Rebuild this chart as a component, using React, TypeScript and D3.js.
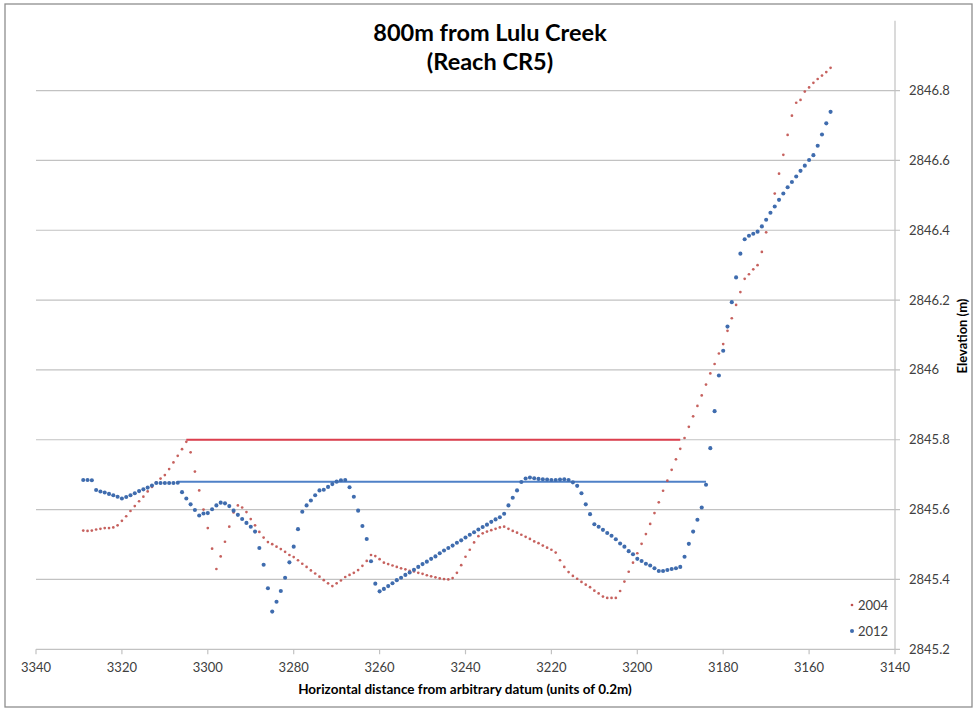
import React from "react";
import * as d3 from "d3";

// Survey stations along the cross-section (units of 0.2 m from datum)
const STATIONS = [
  3329, 3328, 3327, 3326, 3325, 3324, 3323, 3322, 3321, 3320,
  3319, 3318, 3317, 3316, 3315, 3314, 3313, 3312, 3311, 3310,
  3309, 3308, 3307, 3306, 3305, 3304, 3303, 3302, 3301, 3300,
  3299, 3298, 3297, 3296, 3295, 3294, 3293, 3292, 3291, 3290,
  3289, 3288, 3287, 3286, 3285, 3284, 3283, 3282, 3281, 3280,
  3279, 3278, 3277, 3276, 3275, 3274, 3273, 3272, 3271, 3270,
  3269, 3268, 3267, 3266, 3265, 3264, 3263, 3262, 3261, 3260,
  3259, 3258, 3257, 3256, 3255, 3254, 3253, 3252, 3251, 3250,
  3249, 3248, 3247, 3246, 3245, 3244, 3243, 3242, 3241, 3240,
  3239, 3238, 3237, 3236, 3235, 3234, 3233, 3232, 3231, 3230,
  3229, 3228, 3227, 3226, 3225, 3224, 3223, 3222, 3221, 3220,
  3219, 3218, 3217, 3216, 3215, 3214, 3213, 3212, 3211, 3210,
  3209, 3208, 3207, 3206, 3205, 3204, 3203, 3202, 3201, 3200,
  3199, 3198, 3197, 3196, 3195, 3194, 3193, 3192, 3191, 3190,
  3189, 3188, 3187, 3186, 3185, 3184, 3183, 3182, 3181, 3180,
  3179, 3178, 3177, 3176, 3175, 3174, 3173, 3172, 3171, 3170,
  3169, 3168, 3167, 3166, 3165, 3164, 3163, 3162, 3161, 3160,
  3159, 3158, 3157, 3156, 3155,
];

// 2004 survey elevations (m)
const ELEV_2004 = [
  2845.540, 2845.539, 2845.540, 2845.543, 2845.545, 2845.547, 2845.547, 2845.549, 2845.555, 2845.568,
  2845.581, 2845.596, 2845.610, 2845.624, 2845.637, 2845.652, 2845.665, 2845.678, 2845.689, 2845.699,
  2845.716, 2845.735, 2845.754, 2845.773, 2845.794, 2845.764, 2845.709, 2845.655, 2845.600, 2845.547,
  2845.488, 2845.430, 2845.466, 2845.508, 2845.551, 2845.592, 2845.612, 2845.606, 2845.593, 2845.573,
  2845.555, 2845.536, 2845.520, 2845.507, 2845.501, 2845.494, 2845.487, 2845.479, 2845.470, 2845.464,
  2845.455, 2845.445, 2845.436, 2845.426, 2845.417, 2845.408, 2845.398, 2845.389, 2845.381, 2845.389,
  2845.397, 2845.407, 2845.413, 2845.419, 2845.427, 2845.439, 2845.453, 2845.470, 2845.467, 2845.458,
  2845.448, 2845.444, 2845.440, 2845.436, 2845.432, 2845.429, 2845.425, 2845.423, 2845.419, 2845.416,
  2845.412, 2845.409, 2845.406, 2845.403, 2845.401, 2845.400, 2845.404, 2845.419, 2845.441, 2845.465,
  2845.485, 2845.506, 2845.524, 2845.532, 2845.537, 2845.541, 2845.545, 2845.549, 2845.551, 2845.545,
  2845.539, 2845.534, 2845.528, 2845.522, 2845.516, 2845.509, 2845.504, 2845.497, 2845.491, 2845.485,
  2845.477, 2845.455, 2845.436, 2845.421, 2845.410, 2845.402, 2845.393, 2845.385, 2845.378, 2845.368,
  2845.360, 2845.351, 2845.347, 2845.347, 2845.347, 2845.367, 2845.394, 2845.422, 2845.448, 2845.475,
  2845.502, 2845.530, 2845.559, 2845.590, 2845.621, 2845.654, 2845.683, 2845.714, 2845.744, 2845.774,
  2845.805, 2845.837, 2845.867, 2845.897, 2845.927, 2845.958, 2845.990, 2846.017, 2846.047, 2846.074,
  2846.112, 2846.148, 2846.186, 2846.223, 2846.261, 2846.274, 2846.288, 2846.300, 2846.338, 2846.394,
  2846.450, 2846.505, 2846.562, 2846.616, 2846.673, 2846.728, 2846.765, 2846.773, 2846.797, 2846.809,
  2846.822, 2846.833, 2846.843, 2846.853, 2846.865,
];

// 2012 survey elevations (m)
const ELEV_2012 = [
  2845.685, 2845.685, 2845.684, 2845.656, 2845.652, 2845.649, 2845.645, 2845.641, 2845.637, 2845.632,
  2845.636, 2845.641, 2845.647, 2845.653, 2845.658, 2845.663, 2845.669, 2845.676, 2845.676, 2845.676,
  2845.676, 2845.676, 2845.677, 2845.650, 2845.632, 2845.615, 2845.599, 2845.583, 2845.589, 2845.590,
  2845.601, 2845.612, 2845.620, 2845.618, 2845.610, 2845.597, 2845.585, 2845.573, 2845.562, 2845.551,
  2845.537, 2845.490, 2845.442, 2845.375, 2845.308, 2845.336, 2845.367, 2845.405, 2845.449, 2845.494,
  2845.544, 2845.594, 2845.612, 2845.626, 2845.641, 2845.655, 2845.657, 2845.665, 2845.673, 2845.680,
  2845.684, 2845.685, 2845.664, 2845.637, 2845.597, 2845.553, 2845.516, 2845.452, 2845.388, 2845.366,
  2845.373, 2845.381, 2845.389, 2845.398, 2845.405, 2845.413, 2845.420, 2845.428, 2845.436, 2845.444,
  2845.451, 2845.459, 2845.466, 2845.475, 2845.483, 2845.490, 2845.497, 2845.505, 2845.512, 2845.520,
  2845.528, 2845.535, 2845.543, 2845.550, 2845.557, 2845.565, 2845.572, 2845.578, 2845.588, 2845.612,
  2845.634, 2845.655, 2845.679, 2845.689, 2845.692, 2845.690, 2845.688, 2845.687, 2845.686, 2845.685,
  2845.685, 2845.686, 2845.687, 2845.685, 2845.678, 2845.668, 2845.647, 2845.615, 2845.587, 2845.558,
  2845.551, 2845.542, 2845.533, 2845.525, 2845.515, 2845.503, 2845.494, 2845.481, 2845.472, 2845.459,
  2845.453, 2845.445, 2845.440, 2845.432, 2845.424, 2845.424, 2845.427, 2845.430, 2845.432, 2845.436,
  2845.465, 2845.502, 2845.537, 2845.571, 2845.606, 2845.671, 2845.776, 2845.882, 2845.984, 2846.055,
  2846.124, 2846.194, 2846.265, 2846.333, 2846.374, 2846.384, 2846.390, 2846.396, 2846.411, 2846.430,
  2846.450, 2846.468, 2846.487, 2846.505, 2846.523, 2846.538, 2846.554, 2846.570, 2846.585, 2846.601,
  2846.615, 2846.642, 2846.674, 2846.706, 2846.739,
];

// Bankfull water levels: [start station, end station, elevation]
const LEVEL_2004 = [3305, 3190, 2845.8];
const LEVEL_2012 = [3307, 3184, 2845.68];

const X_TICKS = [3340, 3320, 3300, 3280, 3260, 3240, 3220, 3200, 3180, 3160, 3140];
const Y_TICKS = [2845.2, 2845.4, 2845.6, 2845.8, 2846, 2846.2, 2846.4, 2846.6, 2846.8];

const TITLE_LINES = ["800m from Lulu Creek", "(Reach CR5)"];
const X_TITLE = "Horizontal distance from arbitrary datum (units of 0.2m)";
const Y_TITLE = "Elevation (m)";
const SERIES_NAMES = ["2004", "2012"];

const W = 975;
const H = 711;
const FONT = "Lato, 'Open Sans', sans-serif";
const RED_DOT = "#c0504d";
const RED_LINE = "#dc3f4e";
const BLUE_DOT = "#3f6cae";
const BLUE_LINE = "#4f81c7";
const GRID = "#c2c2c2";
const TEXT = "#404040";

export default function App() {
  const x = d3.scaleLinear().domain([3340, 3140]).range([36, 895]);
  const y = d3.scaleLinear().domain([2845.2, 2847]).range([649.3, 20.7]);
  const plotLeft = x(3340);
  const plotRight = x(3140);
  const plotBottom = y(2845.2);
  const plotTop = y(2847);

  const pts2004 = STATIONS.map((s, i) => [s, ELEV_2004[i]]);
  const pts2012 = STATIONS.map((s, i) => [s, ELEV_2012[i]]);
  const fmt = d3.format("");

  return (
    <div style={{ position: "fixed", left: 0, top: 0 }}>
      <svg width={W} height={H} style={{ display: "block", background: "#fff" }}>
        <rect x={5} y={4} width={967} height={703} fill="#fff" stroke="#8e8e8e" strokeWidth={1.3} />

        {/* horizontal gridlines */}
        {Y_TICKS.filter((t) => t > 2845.2).map((t) => (
          <line key={t} x1={plotLeft} x2={plotRight + 5} y1={y(t)} y2={y(t)} stroke={GRID} strokeWidth={1.2} />
        ))}

        {/* x axis */}
        <line x1={plotLeft} x2={plotRight + 5} y1={plotBottom} y2={plotBottom} stroke={GRID} strokeWidth={1.2} />
        {X_TICKS.map((t) => (
          <g key={t}>
            <line x1={x(t)} x2={x(t)} y1={plotBottom} y2={plotBottom + 5} stroke={GRID} strokeWidth={1.2} />
            <text x={x(t)} y={plotBottom + 23} textAnchor="middle" fontFamily={FONT} fontSize={13} fill={TEXT}>
              {fmt(t)}
            </text>
          </g>
        ))}

        {/* y axis on the right */}
        <line x1={plotRight} x2={plotRight} y1={plotTop} y2={plotBottom} stroke={GRID} strokeWidth={1.2} />
        {Y_TICKS.map((t) => (
          <text key={t} x={plotRight + 14} y={y(t) + 4.5} fontFamily={FONT} fontSize={13} fill={TEXT}>
            {fmt(t)}
          </text>
        ))}

        {/* water levels */}
        <line x1={x(LEVEL_2004[0])} x2={x(LEVEL_2004[1])} y1={y(LEVEL_2004[2])} y2={y(LEVEL_2004[2])} stroke={RED_LINE} strokeWidth={2} />
        <line x1={x(LEVEL_2012[0])} x2={x(LEVEL_2012[1])} y1={y(LEVEL_2012[2])} y2={y(LEVEL_2012[2])} stroke={BLUE_LINE} strokeWidth={2} />

        {/* survey points */}
        {pts2004.map(([s, e]) => (
          <circle key={"r" + s} cx={x(s)} cy={y(e)} r={1.35} fill={RED_DOT} opacity={0.9} />
        ))}
        {pts2012.map(([s, e]) => (
          <circle key={"b" + s} cx={x(s)} cy={y(e)} r={2.05} fill={BLUE_DOT} />
        ))}

        {/* title */}
        <text x={490} y={41} textAnchor="middle" fontFamily={FONT} fontWeight="bold" fontSize={23.5} fill="#000">
          {TITLE_LINES[0]}
        </text>
        <text x={490} y={70} textAnchor="middle" fontFamily={FONT} fontWeight="bold" fontSize={23.5} fill="#000">
          {TITLE_LINES[1]}
        </text>

        {/* axis titles */}
        <text x={465} y={694} textAnchor="middle" fontFamily={FONT} fontWeight="bold" fontSize={13.5} fill="#000">
          {X_TITLE}
        </text>
        <text
          transform={`translate(967,336) rotate(-90)`}
          textAnchor="middle"
          fontFamily={FONT}
          fontWeight="bold"
          fontSize={13}
          fill="#000"
        >
          {Y_TITLE}
        </text>

        {/* legend */}
        <circle cx={852} cy={605} r={1.35} fill={RED_DOT} />
        <text x={858} y={609.5} fontFamily={FONT} fontSize={13} fill={TEXT}>{SERIES_NAMES[0]}</text>
        <circle cx={852} cy={631} r={2.05} fill={BLUE_DOT} />
        <text x={858} y={635.5} fontFamily={FONT} fontSize={13} fill={TEXT}>{SERIES_NAMES[1]}</text>
      </svg>
    </div>
  );
}
